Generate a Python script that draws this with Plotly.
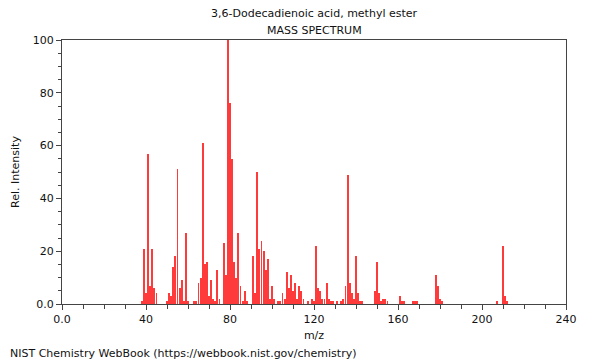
import plotly.graph_objects as go

mz = [38, 39, 40, 41, 42, 43, 44, 45,
      50, 51, 52, 53, 54, 55, 56, 57, 58, 59, 60,
      63, 64, 65, 66, 67, 68, 69, 70, 71, 72, 73, 74, 75,
      77, 78, 79, 80, 81, 82, 83, 84, 85, 86, 87, 88,
      91, 92, 93, 94, 95, 96, 97, 98, 99, 100, 101, 103,
      104, 105, 106, 107, 108, 109, 110, 111, 112, 113, 114, 115, 117,
      119, 120, 121, 122, 123, 124, 125, 126, 127, 128, 129, 131,
      133, 134, 135, 136, 137, 138, 139, 140, 141, 142, 143,
      149, 150, 151, 152, 153, 154, 155,
      161, 162, 163, 167, 168, 169,
      178, 179, 180, 181,
      207, 210, 211, 212]
intensity = [1, 21, 4, 57, 7, 21, 6, 4,
             1, 4, 3, 14, 18, 51, 6, 9, 1, 27, 1,
             1, 1, 8, 10, 61, 15, 16, 3, 9, 2, 1, 13, 2,
             23, 11, 100, 76, 55, 16, 10, 27, 7, 1, 5, 1,
             18, 4, 50, 21, 24, 20, 13, 17, 2, 7, 2, 1,
             1, 4, 2, 12, 6, 11, 5, 8, 2, 7, 5, 2, 1,
             2, 1, 22, 6, 5, 2, 2, 8, 2, 1, 1, 1,
             1, 2, 7, 49, 8, 4, 2, 18, 4, 1, 1,
             5, 16, 4, 1, 2, 2, 1,
             3, 1, 1, 1, 1, 1,
             11, 7, 2, 1,
             1, 22, 3, 1]

title_line1 = "3,6-Dodecadienoic acid, methyl ester"
title_line2 = "MASS SPECTRUM"
x_title = "m/z"
y_title = "Rel. Intensity"
footer = "NIST Chemistry WebBook (https://webbook.nist.gov/chemistry)"
x_ticks = [0, 40, 80, 120, 160, 200, 240]
x_ticklabels = ["0.0", "40", "80", "120", "160", "200", "240"]
y_ticks = [0, 20, 40, 60, 80, 100]
y_ticklabels = ["0.0", "20", "40", "60", "80", "100"]

FONT = "DejaVu Sans"
AX = "#444444"

fig = go.Figure()
fig.add_trace(go.Bar(x=mz, y=intensity, width=0.42,
                     marker=dict(color="#ff3a3a", line=dict(width=0)),
                     hoverinfo="x+y"))

# page body has an 8px margin, so the figure is 592x352 placed at (8, 8)
fig.update_layout(
    width=592, height=352,
    margin=dict(l=54, r=34, t=32, b=56),
    paper_bgcolor="white", plot_bgcolor="white",
    showlegend=False, bargap=0,
    font=dict(family=FONT, size=11, color="#111111"),
    xaxis=dict(range=[0, 240], tickvals=x_ticks, ticktext=x_ticklabels,
               ticks="outside", ticklen=5, tickcolor=AX, tickwidth=1,
               minor=dict(dtick=10, tick0=0, ticks="outside", ticklen=4, tickcolor=AX),
               showline=True, linecolor=AX, linewidth=1, mirror=True,
               showgrid=False, zeroline=False, automargin=False,
               tickfont=dict(family=FONT, size=11),
               title=dict(text=x_title, font=dict(family=FONT, size=11), standoff=6)),
    yaxis=dict(range=[0, 100], tickvals=y_ticks, ticktext=y_ticklabels,
               ticks="outside", ticklen=5, tickcolor=AX, tickwidth=1,
               minor=dict(dtick=5, tick0=0, ticks="outside", ticklen=3, tickcolor=AX),
               showline=True, linecolor=AX, linewidth=1, mirror=True,
               showgrid=False, zeroline=False, automargin=False,
               tickfont=dict(family=FONT, size=11),
               title=dict(text=y_title, font=dict(family=FONT, size=11), standoff=10)),
    annotations=[
        dict(text=title_line1, xref="paper", yref="paper", x=0.5, y=1.0,
             yshift=27, xanchor="center", yanchor="middle", showarrow=False,
             font=dict(family=FONT, size=11)),
        dict(text=title_line2, xref="paper", yref="paper", x=0.5, y=1.0,
             yshift=10, xanchor="center", yanchor="middle", showarrow=False,
             font=dict(family=FONT, size=11)),
        dict(text=footer, xref="paper", yref="paper", x=0, y=0,
             xshift=-54, yshift=-49, xanchor="left", yanchor="middle", showarrow=False,
             font=dict(family=FONT, size=11)),
    ],
)

fig.write_html("out.html")
